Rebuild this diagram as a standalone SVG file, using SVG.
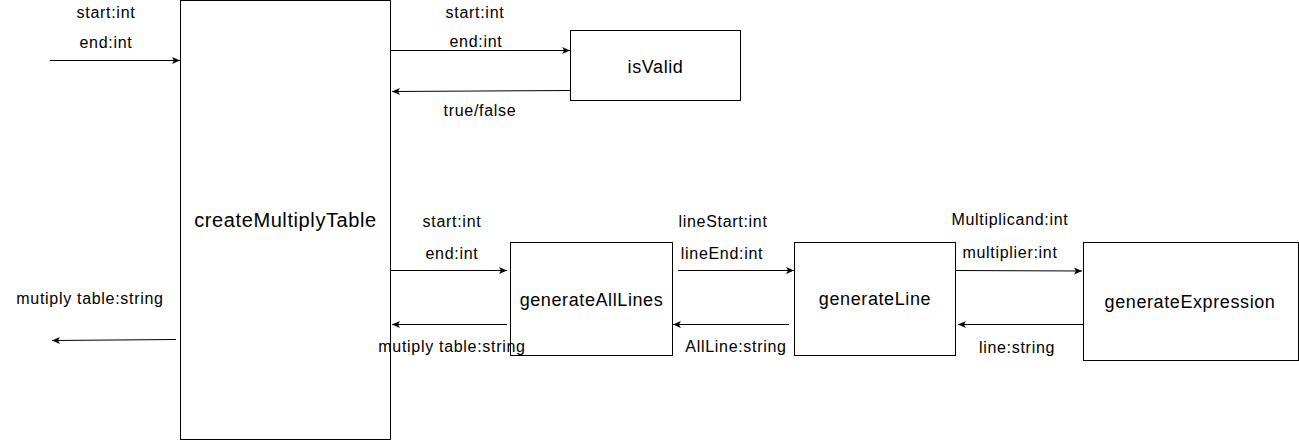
<svg xmlns="http://www.w3.org/2000/svg" width="1299" height="441" viewBox="0 0 1299 441">
<style>
.box{fill:#fff;stroke:#000;stroke-width:1}
.nt{font-family:"Liberation Sans",Arial,sans-serif;font-size:18px;letter-spacing:0.6px;fill:#000;text-anchor:middle;dominant-baseline:central}
.big{font-size:20px}
.lt{font-family:"Liberation Sans",Arial,sans-serif;font-size:16px;letter-spacing:0.7px;fill:#000;text-anchor:middle;dominant-baseline:central}
.ln{fill:none;stroke:#000;stroke-width:1;marker-end:url(#ah)}
</style>
<defs>
<marker id="ah" markerWidth="10" markerHeight="8" refX="8" refY="4" orient="auto" markerUnits="userSpaceOnUse">
<path d="M0,0.5 L8,4 L0,7.5 L2,4 Z" fill="#000"/>
</marker>
</defs>
<rect width="1299" height="441" fill="#fff"/>
<g id="createMultiplyTable"><rect class="box" x="180.5" y="0.5" width="210" height="439"/><text class="nt big" x="285.5" y="220">createMultiplyTable</text></g>
<g id="isValid"><rect class="box" x="570.5" y="30.5" width="170" height="70"/><text class="nt" x="655.5" y="67">isValid</text></g>
<g id="generateAllLines"><rect class="box" x="510.5" y="242.5" width="162" height="113"/><text class="nt" x="591.5" y="300">generateAllLines</text></g>
<g id="generateLine"><rect class="box" x="794.5" y="242.5" width="161" height="113"/><text class="nt" x="875" y="299">generateLine</text></g>
<g id="generateExpression"><rect class="box" x="1083.5" y="242.5" width="215" height="118"/><text class="nt" x="1190" y="302">generateExpression</text></g>
<g id="connectors">
<path class="ln" d="M50,60.5 L180,60.5"/>
<path class="ln" d="M390.5,50.5 L570,50.5"/>
<path class="ln" d="M570,90.5 L392,91.5"/>
<path class="ln" d="M390.5,270.5 L507,270.5"/>
<path class="ln" d="M507,324.5 L392,324.5"/>
<path class="ln" d="M678,270.5 L794,270.5"/>
<path class="ln" d="M789,324.5 L673,324.5"/>
<path class="ln" d="M955.5,270.5 L1082,271"/>
<path class="ln" d="M1083,324.5 L958,324.5"/>
<path class="ln" d="M176,339.5 L52,340.5"/>
</g>
<g id="labels">
<text class="lt" x="106" y="12">start:int</text>
<text class="lt" x="106" y="42">end:int</text>
<text class="lt" x="475" y="12">start:int</text>
<text class="lt" x="476" y="41">end:int</text>
<text class="lt" x="480" y="110">true/false</text>
<text class="lt" x="452" y="221">start:int</text>
<text class="lt" x="452" y="253">end:int</text>
<text class="lt" x="452" y="346">mutiply table:string</text>
<text class="lt" x="723" y="221">lineStart:int</text>
<text class="lt" x="722" y="253">lineEnd:int</text>
<text class="lt" x="736" y="346">AllLine:string</text>
<text class="lt" x="1010" y="219">Multiplicand:int</text>
<text class="lt" x="1010" y="252">multiplier:int</text>
<text class="lt" x="1017" y="347">line:string</text>
<text class="lt" x="90" y="298">mutiply table:string</text>
</g>
</svg>
